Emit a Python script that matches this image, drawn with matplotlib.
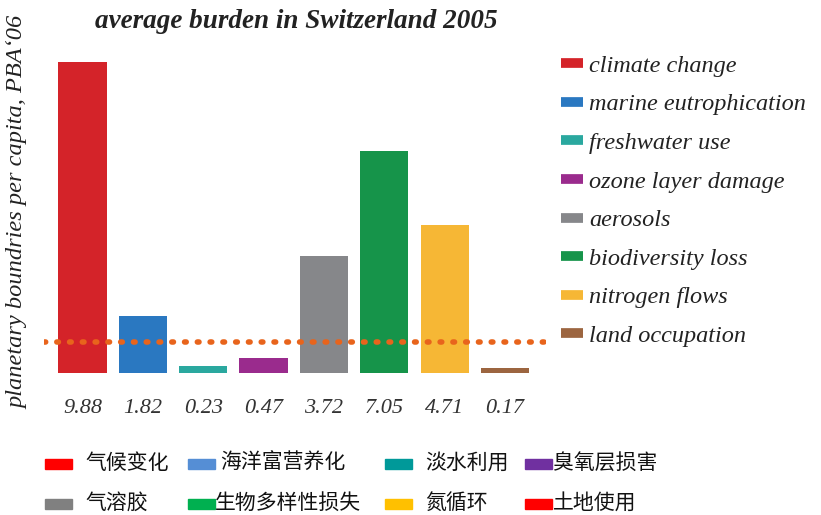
import matplotlib
matplotlib.use("Agg")
import matplotlib.pyplot as plt
from matplotlib.lines import Line2D
from matplotlib.patches import Rectangle

categories = ["climate change", "marine eutrophication", "freshwater use",
              "ozone layer damage", "aerosols", "biodiversity loss",
              "nitrogen flows", "land occupation"]
values = [9.88, 1.82, 0.23, 0.47, 3.72, 7.05, 4.71, 0.17]
tick_labels = ["9.88", "1.82", "0.23", "0.47", "3.72", "7.05", "4.71", "0.17"]
bar_colors = ["#d42329", "#2a78c1", "#2aa89f", "#9a2b8d", "#86878a",
              "#16944a", "#f6b735", "#9c6540"]
threshold = 1.0
cn_labels = ["气候变化", "海洋富营养化", "淡水利用", "臭氧层损害",
             "气溶胶", "生物多样性损失", "氮循环", "土地使用"]
cn_colors = ["#ff0000", "#558ed5", "#009999", "#7030a0",
             "#808080", "#00b050", "#ffc000", "#ff0000"]

serif = "Liberation Serif"
W, H = 821, 515
fig = plt.figure(figsize=(W / 100, H / 100), dpi=100)
ax = fig.add_axes([44 / W, 1 - 373 / H, 502 / W, 318 / H])

x = list(range(len(values)))
ax.bar(x, values, width=0.80, color=bar_colors, label=categories, zorder=2)
ax.axhline(threshold, color="#e8641c", linestyle=(0, (0.3, 2.0)),
           linewidth=4, dash_capstyle="round", zorder=3)
ax.set_xlim(-0.64, 7.68)
ax.set_ylim(0, 10.1)
ax.set_xticks(x)
ax.set_xticklabels(tick_labels, fontfamily=serif, fontstyle="italic",
                   fontsize=16, color="#333333")
ax.tick_params(axis="x", length=0, pad=19)
ax.set_yticks([])
for s in ax.spines.values():
    s.set_visible(False)

fig.text(296 / W, 1 - 22 / H, "average burden in Switzerland 2005",
         ha="center", va="center", fontfamily=serif, fontstyle="italic",
         fontweight="bold", fontsize=19.5, color="#222222")
fig.text(18 / W, 1 - 212 / H, "planetary boundries per capita, PBA\u201806",
         ha="center", va="center", rotation=90, fontfamily=serif,
         fontstyle="italic", fontsize=17.6, color="#222222")

handles = [Line2D([0], [0], color=c, linewidth=7, solid_capstyle="butt")
           for c in bar_colors]
fig.legend(handles, categories, loc="upper left",
           bbox_to_anchor=(539 / W, 1 - 33 / H), frameon=False,
           handlelength=0.9, handletextpad=0.25, labelspacing=0.68,
           prop={"family": serif, "style": "italic", "size": 17.5},
           labelcolor="#222222")

# bottom Chinese legend
patch_x = [45, 188, 385, 525]
text_x = [85, 220, 425, 553]
row_y = [463, 503]
for i, (lab, col) in enumerate(zip(cn_labels, cn_colors)):
    r, c = divmod(i, 4)
    px = patch_x[c]
    tx = text_x[c]
    if r == 1 and c == 1:
        tx = 215
    y = row_y[r]
    fig.patches.append(Rectangle((px / W, 1 - (y + 6) / H), 27 / W, 10 / H,
                                 transform=fig.transFigure, color=col))
    fig.text(tx / W, 1 - y / H, lab, ha="left", va="center",
             fontfamily=["Noto Sans CJK SC", "DejaVu Sans"], fontsize=15,
             color="#111111")

fig.savefig("out.png", dpi=100)
